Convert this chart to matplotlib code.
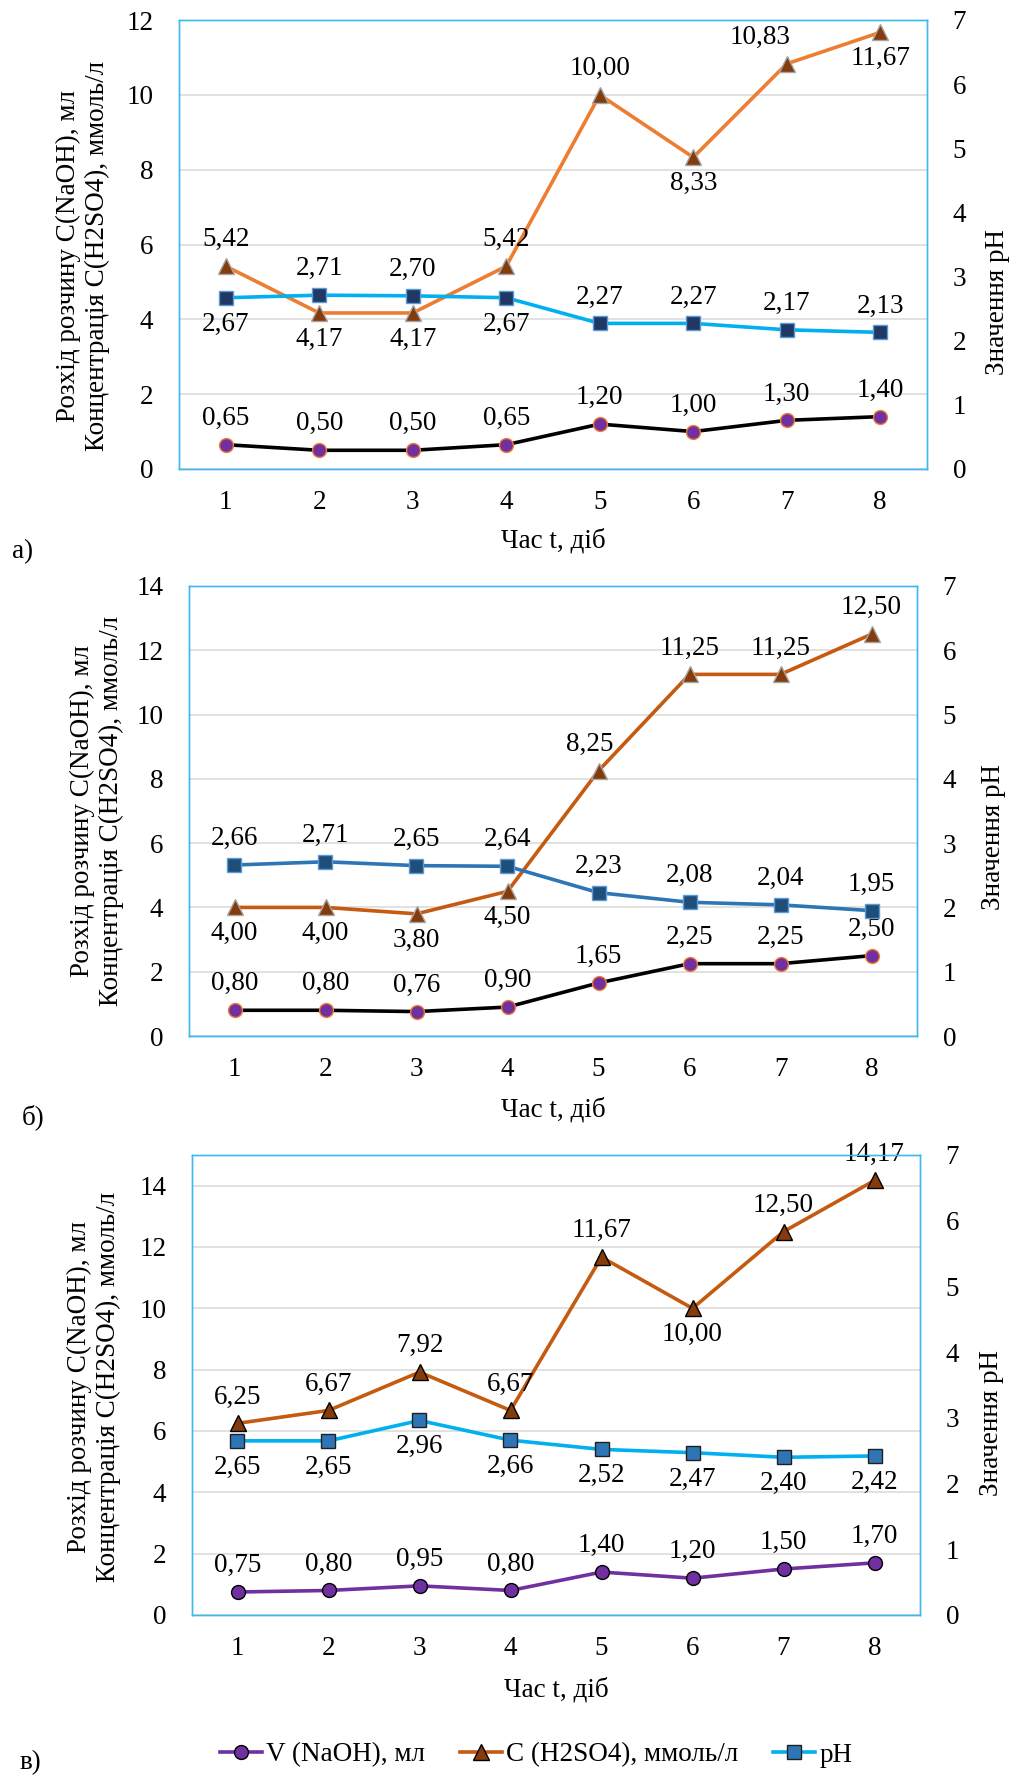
import matplotlib
matplotlib.use("Agg")
import matplotlib.pyplot as plt

SERIF = "Liberation Serif"
plt.rcParams["font.family"] = "serif"
plt.rcParams["font.serif"] = ["Liberation Serif", "DejaVu Serif"]
FS = 19.5
FONT = dict(family=SERIF, size=FS)

W, H = 1015, 1778

# ---- data -------------------------------------------------------------
days = [1, 2, 3, 4, 5, 6, 7, 8]
day_labels = ["1", "2", "3", "4", "5", "6", "7", "8"]

a_v = [0.65, 0.50, 0.50, 0.65, 1.20, 1.00, 1.30, 1.40]
a_c = [5.42, 4.17, 4.17, 5.42, 10.00, 8.33, 10.83, 11.67]
a_ph = [2.67, 2.71, 2.70, 2.67, 2.27, 2.27, 2.17, 2.13]

b_v = [0.80, 0.80, 0.76, 0.90, 1.65, 2.25, 2.25, 2.50]
b_c = [4.00, 4.00, 3.80, 4.50, 8.25, 11.25, 11.25, 12.50]
b_ph = [2.66, 2.71, 2.65, 2.64, 2.23, 2.08, 2.04, 1.95]

c_v = [0.75, 0.80, 0.95, 0.80, 1.40, 1.20, 1.50, 1.70]
c_c = [6.25, 6.67, 7.92, 6.67, 11.67, 10.00, 12.50, 14.17]
c_ph = [2.65, 2.65, 2.96, 2.66, 2.52, 2.47, 2.40, 2.42]

legend_labels = ["V (NaOH), мл", "C (H2SO4), ммоль/л", "pH"]
ylabel_left = "Розхід розчину C(NaOH), мл\nКонцентрація C(H2SO4), ммоль/л"
ylabel_right = "Значення pH"
xlabel = "Час t, діб"

# ---- layout / styles (pixels of the 1015x1778 canvas) -----------------
# label placement: +1 above the point, -1 below it
panels = [
    dict(box=(179, 20, 927, 469), ymax=12, yticks=[0, 2, 4, 6, 8, 10, 12],
         ylab=(83, 256), y2lab=(997, 302), xlab_y=541, letter=(12, 552, "а)"),
         v=a_v, c=a_c, ph=a_ph,
         v_pos=[1] * 8, c_pos=[1, -1, -1, 1, 1, -1, 1, -1], ph_pos=[-1, 1, 1, -1, 1, 1, 1, 1],
         c_dx={6: -27},
         v_style=dict(color="black", mfc="#7030A0", mec="#ED7D31"),
         c_style=dict(color="#ED7D31", mfc="#843C0C", mec="#A5A5A5"),
         ph_style=dict(color="#00B0F0", mfc="#1F3864", mec="#5B9BD5")),
    dict(box=(189, 586, 917, 1036), ymax=14, yticks=[0, 2, 4, 6, 8, 10, 12, 14],
         ylab=(97, 811), y2lab=(993, 837), xlab_y=1110, letter=(22, 1117, "б)"),
         v=b_v, c=b_c, ph=b_ph,
         v_pos=[1] * 8, c_pos=[-1, -1, -1, -1, 1, 1, 1, 1], ph_pos=[1] * 8,
         c_dx={4: -9},
         v_style=dict(color="black", mfc="#7030A0", mec="#ED7D31"),
         c_style=dict(color="#C55A11", mfc="#843C0C", mec="#A5A5A5"),
         ph_style=dict(color="#2E75B6", mfc="#1F4E79", mec="#5B9BD5")),
    dict(box=(192, 1155, 920, 1615), ymax=15, yticks=[0, 2, 4, 6, 8, 10, 12, 14],
         ylab=(94, 1387), y2lab=(992, 1423), xlab_y=1690, letter=(20, 1763, "в)"),
         v=c_v, c=c_c, ph=c_ph,
         v_pos=[1] * 8, c_pos=[1, 1, 1, 1, 1, -1, 1, 1], ph_pos=[-1] * 8,
         c_dx={},
         v_style=dict(color="#7030A0", mfc="#7030A0", mec="black"),
         c_style=dict(color="#C55A11", mfc="#843C0C", mec="black"),
         ph_style=dict(color="#00B0F0", mfc="#2E75B6", mec="#1F1F1F")),
]

FRAME = "#41B8EC"
GRID = "#D9D9D9"
LW = 2.6
OFF = 19  # points between marker and its label


def fx(x):
    return x / W


def fy(y):
    return 1 - y / H


def fmt(v):
    return f"{v:.2f}".replace(".", ",")


def put_labels(ax, xs, ys, pos, dx=None):
    dx = dx or {}
    for i, (x, y, p) in enumerate(zip(xs, ys, pos)):
        ax.annotate(fmt(y), (x, y), xytext=(dx.get(i, 0) * 0.72, p * OFF),
                    textcoords="offset points", ha="center", va="center",
                    family=SERIF, fontsize=FS, zorder=6)


fig = plt.figure(figsize=(W / 100, H / 100), dpi=100)
legend_handles = None

for p in panels:
    x0, y0, x1, y1 = p["box"]
    ax = fig.add_axes([fx(x0), fy(y1), (x1 - x0) / W, (y1 - y0) / H])
    ax2 = ax.twinx()

    ax.set_xlim(0.5, 8.5)
    ax.set_ylim(0, p["ymax"])
    ax.set_yticks(p["yticks"], [str(t) for t in p["yticks"]], family=SERIF, fontsize=FS)
    ax.set_xticks(days, day_labels, family=SERIF, fontsize=FS)
    ax2.set_ylim(0, 7)
    ax2.set_yticks(range(8), [str(t) for t in range(8)], family=SERIF, fontsize=FS)

    ax.grid(axis="y", color=GRID, lw=1.1)
    ax.set_axisbelow(True)
    ax.tick_params(axis="both", length=0)
    ax.tick_params(axis="y", pad=18.5)
    ax.tick_params(axis="x", pad=15)
    ax2.tick_params(axis="y", length=0, pad=18.5)
    for a in (ax, ax2):
        for s in a.spines.values():
            s.set_color(FRAME)
            s.set_linewidth(1.0)

    lv, = ax.plot(days, p["v"], marker="o", ms=10, lw=LW, mew=1.0,
                  zorder=4, **p["v_style"])
    lc, = ax.plot(days, p["c"], marker="^", ms=11, lw=LW, mew=1.0,
                  zorder=4, **p["c_style"])
    lp, = ax2.plot(days, p["ph"], marker="s", ms=10.5, lw=LW, mew=1.0,
                   zorder=4, **p["ph_style"])

    put_labels(ax, days, p["v"], p["v_pos"])
    put_labels(ax, days, p["c"], p["c_pos"], p["c_dx"])
    put_labels(ax2, days, p["ph"], p["ph_pos"])

    ax.set_ylabel(ylabel_left, family=SERIF, fontsize=FS, linespacing=1.2)
    ax.yaxis.label.set_va("center")
    ax.yaxis.set_label_coords(fx(p["ylab"][0]), fy(p["ylab"][1]), transform=fig.transFigure)

    ax2.set_ylabel(ylabel_right, family=SERIF, fontsize=FS, rotation=90)
    ax2.yaxis.label.set_va("center")
    ax2.yaxis.set_label_coords(fx(p["y2lab"][0]), fy(p["y2lab"][1]), transform=fig.transFigure)

    ax.set_xlabel(xlabel, family=SERIF, fontsize=FS)
    ax.xaxis.label.set_va("center")
    ax.xaxis.set_label_coords(fx((x0 + x1) / 2), fy(p["xlab_y"]), transform=fig.transFigure)

    lx, ly, ltxt = p["letter"]
    fig.text(fx(lx), fy(ly), ltxt, family=SERIF, fontsize=FS, ha="left", va="center")

    legend_handles = [lv, lc, lp]

fig.legend(legend_handles, legend_labels, loc="center", ncol=3,
           bbox_to_anchor=(fx(536), fy(1755)), frameon=False,
           prop=dict(family=SERIF, size=FS),
           handlelength=1.55, handletextpad=0.15, columnspacing=1.3,
           numpoints=1, borderpad=0)

fig.savefig("out.png", dpi=100)
